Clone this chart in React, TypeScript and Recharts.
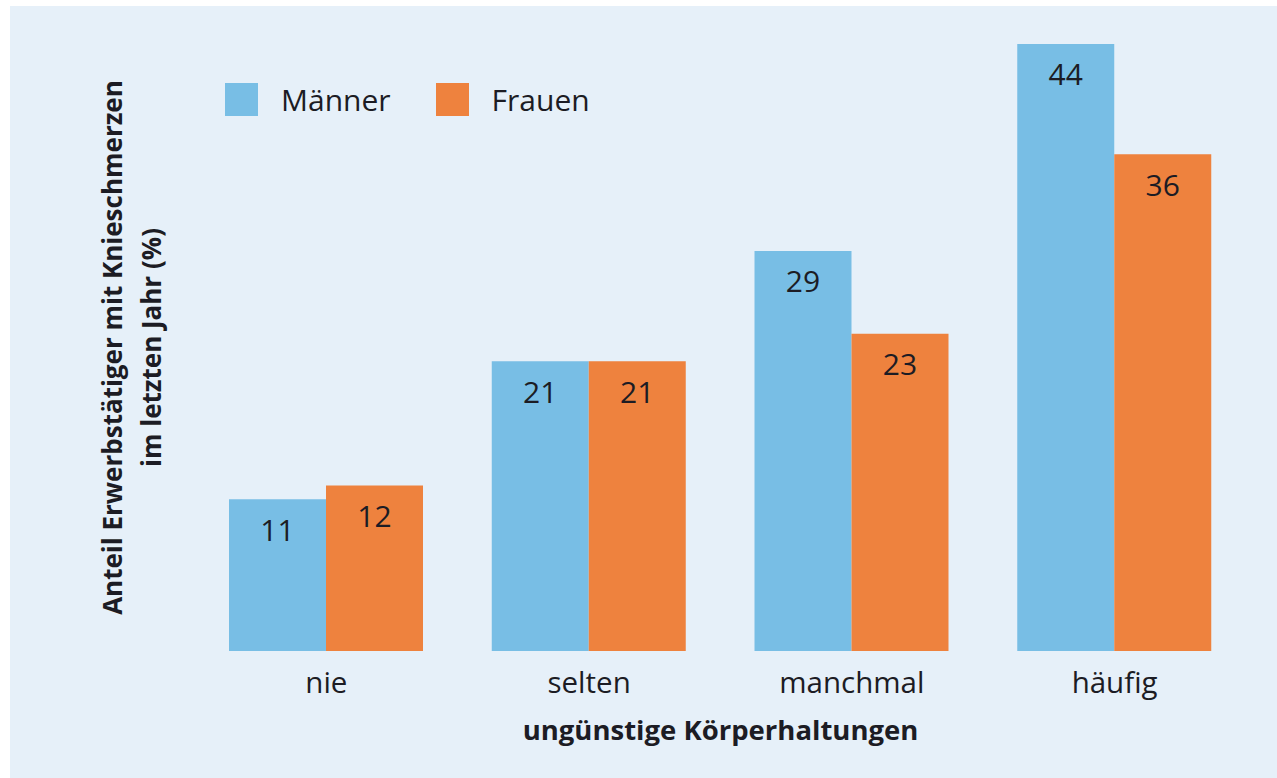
import { BarChart, Bar, XAxis, YAxis, LabelList, Label } from 'recharts';

const categories = ['nie', 'selten', 'manchmal', 'häufig'];
const maenner = [11, 21, 29, 44];
const frauen = [12, 21, 23, 36];

const data = categories.map((c, i) => ({ name: c, Männer: maenner[i], Frauen: frauen[i] }));

const FONT = '"Open Sans", sans-serif';
const TEXT = '#1c1c24';
const BLUE = '#78bee5';
const ORANGE = '#ee823e';

const series = [
  { key: 'Männer', color: BLUE },
  { key: 'Frauen', color: ORANGE },
];

function ChartLegend() {
  return (
    <div style={{ position: 'absolute', left: 225, top: 83, display: 'flex', alignItems: 'center', fontFamily: FONT, fontSize: 30, color: TEXT }}>
      {series.map((s) => (
        <div key={s.key} style={{ display: 'flex', alignItems: 'center', marginRight: 45 }}>
          <span style={{ width: 33, height: 33, background: s.color, display: 'inline-block', marginRight: 23 }} />
          <span style={{ lineHeight: '33px' }}>{s.key}</span>
        </div>
      ))}
    </div>
  );
}

function YTitle({ viewBox }: any) {
  const cy = viewBox.y + viewBox.height / 2;
  const style = { fontFamily: FONT, fontSize: 26, fontWeight: 700, fill: TEXT };
  return (
    <g>
      <text x={122} y={cy} textAnchor="middle" transform={`rotate(-90, 122, ${cy})`} {...style}>
        Anteil Erwerbstätiger mit Knieschmerzen
      </text>
      <text x={161} y={cy} textAnchor="middle" transform={`rotate(-90, 161, ${cy})`} {...style}>
        im letzten Jahr (%)
      </text>
    </g>
  );
}

export default function App() {
  return (
    <div style={{ position: 'absolute', left: 0, top: 0, width: 1277, height: 778, background: '#fff' }}>
      <div style={{ position: 'absolute', left: 10, top: 6, right: 0, bottom: 0, background: '#e6f0f9' }} />
      <div style={{ position: 'absolute', left: 0, top: 0 }}>
        <BarChart
          width={1277}
          height={778}
          data={data}
          margin={{ top: 44, right: 31, left: 95, bottom: 32 }}
          barCategoryGap={34}
          barGap={0}
        >
          <XAxis
            dataKey="name"
            axisLine={false}
            tickLine={false}
            height={95}
            tickMargin={15}
            tick={{ fontFamily: FONT, fontSize: 29.5, fill: TEXT }}
          >
            <Label
              value="ungünstige Körperhaltungen"
              position="insideBottom"
              offset={6}
              style={{ fontFamily: FONT, fontSize: 27.5, fontWeight: 700, fill: TEXT }}
            />
          </XAxis>
          <YAxis width={100} domain={[0, 44]} axisLine={false} tickLine={false} tick={false}>
            <Label content={<YTitle />} />
          </YAxis>
          <Bar dataKey="Männer" fill={BLUE} isAnimationActive={false}>
            <LabelList dataKey="Männer" position="insideTop" offset={20} style={{ fontFamily: FONT, fontSize: 30, fill: TEXT }} />
          </Bar>
          <Bar dataKey="Frauen" fill={ORANGE} isAnimationActive={false}>
            <LabelList dataKey="Frauen" position="insideTop" offset={20} style={{ fontFamily: FONT, fontSize: 30, fill: TEXT }} />
          </Bar>
        </BarChart>
      </div>
      <ChartLegend />
    </div>
  );
}
